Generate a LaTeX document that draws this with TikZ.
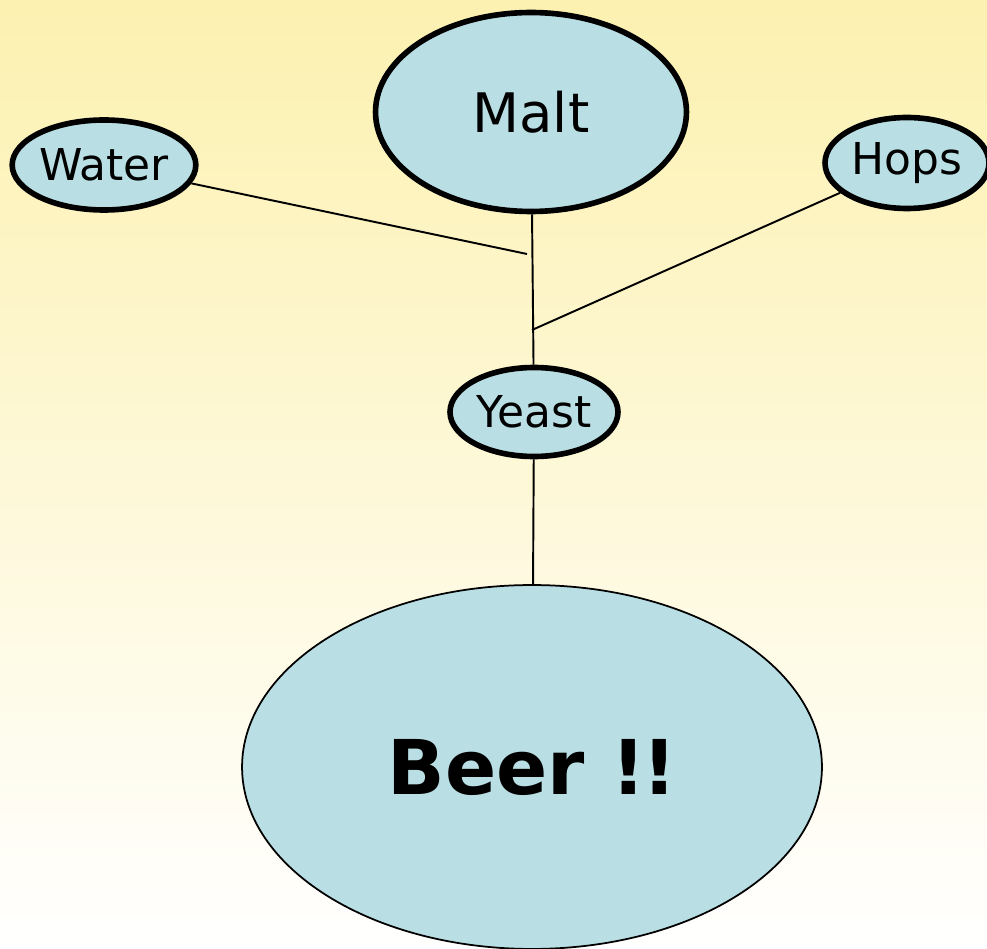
\documentclass[tikz,border=0pt]{standalone}
\usepackage{fontspec}
\setmainfont{DejaVu Sans}
\usetikzlibrary{shapes.geometric}
\definecolor{bubble}{HTML}{B9DFE4}
\definecolor{paper}{HTML}{FCF1B0}
\begin{document}
\begin{tikzpicture}[x=0.02cm, y=-0.02cm,
    part/.style = {draw, ellipse, fill=bubble, line width=3.2pt, inner sep=0pt},
    link/.style = {line width=1.1pt}]
    \shade[top color=paper, bottom color=white] (0,0) rectangle (987,949);
    \useasboundingbox (0,0) rectangle (987,949);
    \node[part, minimum width=3.4cm, minimum height=1.8cm, font=\fontsize{25}{30}\selectfont] (water) at (104,165) {Water};
    \node[part, minimum width=6.22cm, minimum height=3.98cm, font=\fontsize{31}{38}\selectfont] (malt) at (531,112) {Malt};
    \node[part, minimum width=3.28cm, minimum height=1.82cm, font=\fontsize{25}{30}\selectfont] (hops) at (907,163) {Hops};
    \node[part, minimum width=3.36cm, minimum height=1.78cm, font=\fontsize{25}{30}\selectfont] (yeast) at (534,412) {Yeast};
    \node[part, line width=1pt, minimum width=11.6cm, minimum height=7.28cm, font=\fontsize{43}{52}\selectfont\bfseries] (beer) at (532,767) {Beer !\kern-2pt!};
    \coordinate (wjoin) at (527,254);
    \coordinate (hjoin) at (532,330);
    \draw[link] (water) -- (wjoin);
    \draw[link] (hops) -- (hjoin);
    \draw[link] (malt) -- (yeast);
    \draw[link] (yeast) -- (beer);
\end{tikzpicture}
\end{document}
